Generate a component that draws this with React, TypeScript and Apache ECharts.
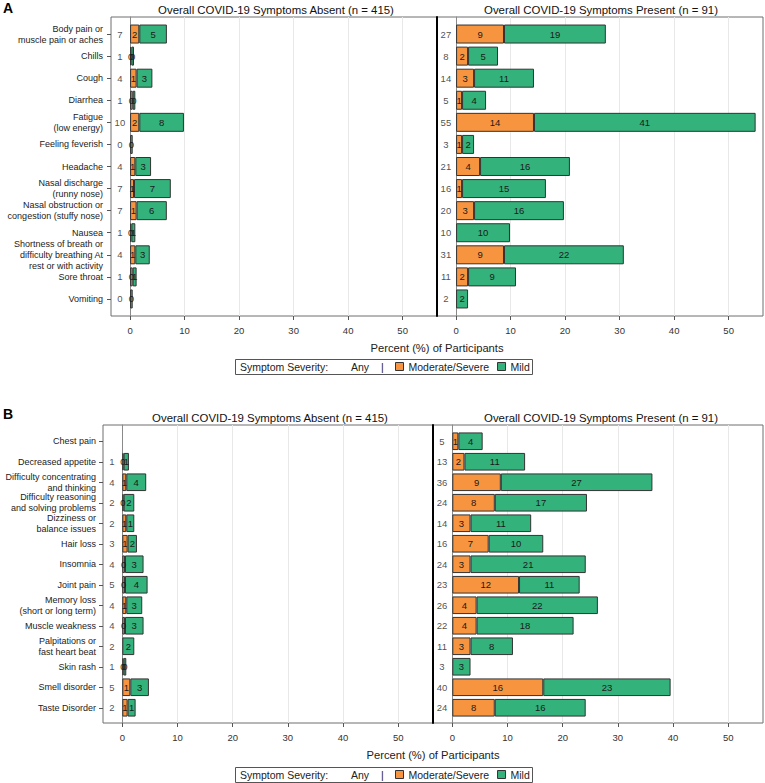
import React, { useEffect, useRef } from "react";
import * as echarts from "echarts";

// ---------- DATA ----------
const symptomsA = [
  "Body pain or\nmuscle pain or aches",
  "Chills",
  "Cough",
  "Diarrhea",
  "Fatigue\n(low energy)",
  "Feeling feverish",
  "Headache",
  "Nasal discharge\n(runny nose)",
  "Nasal obstruction or\ncongestion (stuffy nose)",
  "Nausea",
  "Shortness of breath or\ndifficulty breathing At\nrest or with activity",
  "Sore throat",
  "Vomiting",
];
const absentModA = [1.69, 0.24, 1.2, 0.48, 1.69, null, 0.96, 0.72, 1.2, 0.24, 0.96, 0.48, null];
const absentMildA = [5.06, 0.48, 2.89, 0.48, 8.19, 0.48, 2.89, 6.75, 5.54, 0.72, 2.65, 0.72, 0.48];
const absentAnyA = [7, 1, 4, 1, 10, 0, 4, 7, 7, 1, 4, 1, 0];
const presentModA = [8.79, 2.2, 3.3, 1.1, 14.29, 1.1, 4.4, 1.1, 3.3, null, 8.79, 2.2, null];
const presentMildA = [18.68, 5.49, 10.99, 4.4, 40.66, 2.2, 16.48, 15.38, 16.48, 9.89, 21.98, 8.79, 2.2];
const presentAnyA = [27, 8, 14, 5, 55, 3, 21, 16, 20, 10, 31, 11, 2];

const symptomsB = [
  "Chest pain",
  "Decreased appetite",
  "Difficulty concentrating\nand thinking",
  "Difficulty reasoning\nand solving problems",
  "Dizziness or\nbalance issues",
  "Hair loss",
  "Insomnia",
  "Joint pain",
  "Memory loss\n(short or long term)",
  "Muscle weakness",
  "Palpitations or\nfast heart beat",
  "Skin rash",
  "Smell disorder",
  "Taste Disorder",
];
const absentModB = [null, 0.24, 0.72, 0.24, 0.72, 0.96, 0.48, 0.48, 0.72, 0.48, null, 0.24, 1.45, 0.96];
const absentMildB = [null, 0.96, 3.61, 1.93, 1.45, 1.69, 3.37, 4.1, 2.89, 3.37, 2.17, 0.48, 3.37, 1.45];
const absentAnyB = [null, 1, 4, 2, 2, 3, 4, 5, 4, 4, 2, 1, 5, 2];
const presentModB = [1.1, 2.2, 8.79, 7.7, 3.3, 6.59, 3.3, 12.09, 4.4, 4.4, 3.3, null, 16.48, 7.69];
const presentMildB = [4.4, 10.99, 27.47, 16.7, 10.99, 9.89, 20.88, 10.99, 21.98, 17.58, 7.69, 3.3, 23.08, 16.48];
const presentAnyB = [5, 13, 36, 24, 14, 16, 24, 23, 26, 22, 11, 3, 40, 24];

const xTicks = [0, 10, 20, 30, 40, 50];
const titleAbsent = "Overall COVID-19 Symptoms Absent (n = 415)";
const titlePresent = "Overall COVID-19 Symptoms Present (n = 91)";
const axisTitle = "Percent (%) of Participants";
const legendNames = ["Moderate/Severe", "Mild"];

// ---------- STYLE / LAYOUT ----------
const FONT = '"Liberation Sans", Arial, sans-serif';
const ORANGE = "#F7943F";
const GREEN = "#33B27B";
const TEXT = "#222";
const XMIN = -3.5;
const XMAX = 56.3;
const ANY_X = -1.87;

const panels = [
  {
    letter: "A",
    cats: symptomsA,
    sides: [
      { mod: absentModA, mild: absentMildA, any: absentAnyA, title: titleAbsent },
      { mod: presentModA, mild: presentMildA, any: presentAnyA, title: titlePresent },
    ],
    left: 111, mid: 437, right: 763, top: 17, bottom: 316, dataTop: 23, dataBottom: 310,
    catMargin: 8, titleY: 10, titleX: [276, 601], axisTitleX: 437, axisTitleY: 348,
    legendTop: 359, xLabelMargin: 9, letterY: 8,
  },
  {
    letter: "B",
    cats: symptomsB,
    sides: [
      { mod: absentModB, mild: absentMildB, any: absentAnyB, title: titleAbsent },
      { mod: presentModB, mild: presentMildB, any: presentAnyB, title: titlePresent },
    ],
    left: 103, mid: 433, right: 763, top: 425, bottom: 723, dataTop: 431, dataBottom: 718,
    catMargin: 7, titleY: 418, titleX: [270, 601], axisTitleX: 433, axisTitleY: 755,
    legendTop: 767, xLabelMargin: 9, letterY: 414,
  },
];

function text(x: number, y: number, s: string, size: number, align: string, weight = "normal", color = TEXT) {
  return {
    type: "text",
    x,
    y,
    z: 20,
    silent: true,
    style: {
      text: s,
      fill: color,
      fontSize: size,
      fontFamily: FONT,
      fontWeight: weight,
      align,
      textAlign: align,
      verticalAlign: "middle",
      textVerticalAlign: "middle",
    },
  };
}

function toSeriesData(arr: (number | null)[]) {
  return arr.map((v) => (v === null || v === undefined ? "-" : v));
}

function buildOption() {
  const grid: any[] = [];
  const xAxis: any[] = [];
  const yAxis: any[] = [];
  const series: any[] = [];
  const graphic: any[] = [];
  const legend: any[] = [];
  const extraY: any[] = [];

  // background grids: frame, gridlines, x ticks, zero line (0..3)
  panels.forEach((p, pi) => {
    [0, 1].forEach((s) => {
      const g = pi * 2 + s;
      const x0 = s === 0 ? p.left : p.mid;
      const x1 = s === 0 ? p.mid : p.right;
      grid[g] = {
        left: x0, top: p.top, width: x1 - x0, height: p.bottom - p.top,
        show: true, borderColor: "#6e6e6e", borderWidth: 1, backgroundColor: "transparent",
      };
      xAxis[g] = {
        type: "value", gridIndex: g, min: XMIN, max: XMAX,
        axisLine: { show: false, onZero: false },
        axisTick: { show: true, customValues: xTicks, length: 4, lineStyle: { color: "#555" } },
        axisLabel: { customValues: xTicks, margin: p.xLabelMargin, fontSize: 9.5, color: "#333", fontFamily: FONT },
        splitLine: { show: true, lineStyle: { color: "#e8e8e8", width: 1 } },
      };
      yAxis[g] = {
        type: "value", gridIndex: g, min: 0, max: 1,
        axisLine: { show: true, onZero: true, lineStyle: { color: "#8a8a8a", width: 1 } },
        axisTick: { show: false }, axisLabel: { show: false }, splitLine: { show: false },
      };
      if (s === 0) {
        extraY.push({
          type: "value", gridIndex: g, min: 0, max: 1, position: "right",
          axisLine: { show: true, onZero: false, lineStyle: { color: "#000", width: 2 } },
          axisTick: { show: false }, axisLabel: { show: false }, splitLine: { show: false },
        });
      }
    });
  });

  // data grids (4..7)
  panels.forEach((p, pi) => {
    [0, 1].forEach((s) => {
      const d = 4 + pi * 2 + s;
      const x0 = s === 0 ? p.left : p.mid;
      const x1 = s === 0 ? p.mid : p.right;
      const side = p.sides[s];
      grid[d] = { left: x0, top: p.dataTop, width: x1 - x0, height: p.dataBottom - p.dataTop };
      xAxis[d] = { type: "value", gridIndex: d, min: XMIN, max: XMAX, show: false };
      yAxis[d] = {
        type: "category", gridIndex: d, data: p.cats, inverse: true, position: "left",
        axisLine: { show: false, onZero: false },
        axisTick: { show: s === 0, alignWithLabel: true, length: 4, lineStyle: { color: "#555" } },
        axisLabel: {
          show: s === 0, fontSize: 9, lineHeight: 11, color: TEXT, margin: p.catMargin, fontFamily: FONT,
        },
        splitLine: { show: false },
      };
      const barCommon = {
        type: "bar", xAxisIndex: d, yAxisIndex: d, stack: "st" + d, barCategoryGap: "14%",
        silent: true,
        label: {
          show: true, position: "inside", fontSize: 9.5, color: "#1a1a1a", fontFamily: FONT,
          formatter: (q: any) => (typeof q.value === "number" ? String(Math.round(q.value)) : ""),
        },
      };
      series.push({
        ...barCommon, name: legendNames[0], data: toSeriesData(side.mod),
        itemStyle: { color: ORANGE, borderColor: "#333", borderWidth: 1 },
      });
      series.push({
        ...barCommon, name: legendNames[1], data: toSeriesData(side.mild),
        itemStyle: { color: GREEN, borderColor: "#333", borderWidth: 1 },
      });
      const anyData: any[] = [];
      side.any.forEach((v, i) => {
        if (v !== null && v !== undefined) anyData.push([ANY_X, i, v]);
      });
      series.push({
        type: "scatter", name: "any" + d, xAxisIndex: d, yAxisIndex: d, silent: true,
        symbolSize: 1, itemStyle: { color: "rgba(0,0,0,0)" },
        data: anyData,
        label: {
          show: true, position: "inside", fontSize: 9.5, color: TEXT, fontFamily: FONT,
          formatter: (q: any) => String(q.value[2]),
        },
      });
      graphic.push(text(p.titleX[s], p.titleY, side.title, 11.4, "center", "normal", "#111"));
    });

    graphic.push(text(3, p.letterY, p.letter, 14, "left", "bold", "#000"));
    graphic.push(text(p.axisTitleX, p.axisTitleY, axisTitle, 11.2, "center"));
    graphic.push({
      type: "rect", z: 1, silent: true,
      shape: { x: 235.5, y: p.legendTop + 0.5, width: 297, height: 15 },
      style: { fill: "#fff", stroke: "#555", lineWidth: 1 },
    });
    const ly = p.legendTop + 7.5;
    graphic.push(text(240, ly, "Symptom Severity:", 10.5, "left"));
    graphic.push(text(351, ly, "Any", 10.5, "left"));
    graphic.push(text(381, ly, "|", 10.5, "left"));
    legend.push({
      data: legendNames, left: 395, top: ly - 6.5, orient: "horizontal", padding: 0,
      itemWidth: 8, itemHeight: 8, itemGap: 8, icon: "rect", selectedMode: false, z: 30,
      itemStyle: { borderColor: "#333", borderWidth: 1 },
      textStyle: { fontSize: 10.5, color: TEXT, fontFamily: FONT, lineHeight: 13 },
    });
  });

  extraY.forEach((a) => yAxis.push(a));

  return {
    animation: false,
    backgroundColor: "#fff",
    textStyle: { fontFamily: FONT },
    grid, xAxis, yAxis, series, graphic, legend,
  };
}

export default function App() {
  const ref = useRef<HTMLDivElement>(null);
  useEffect(() => {
    if (!ref.current) return;
    const chart = echarts.init(ref.current, null, { renderer: "svg" });
    chart.setOption(buildOption() as any);
    return () => chart.dispose();
  }, []);
  return (
    <div
      ref={ref}
      style={{ position: "fixed", left: 0, top: 0, width: 765, height: 783, background: "#fff" }}
    />
  );
}
